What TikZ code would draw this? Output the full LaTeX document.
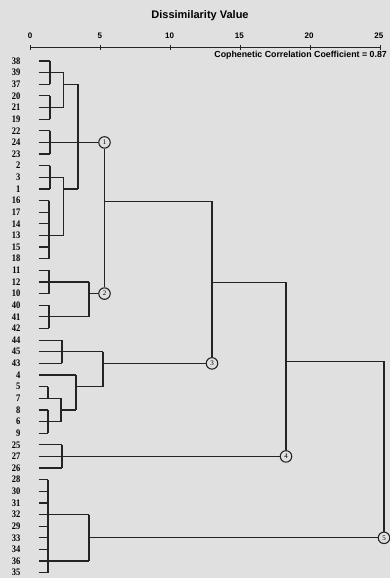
\documentclass[tikz,border=0pt]{standalone}
\usepackage{fontspec}
\setmainfont{Liberation Serif}
\setsansfont{Liberation Sans}
\definecolor{paper}{HTML}{E0E0E0}
\definecolor{ink}{HTML}{242424}
\begin{document}
\begin{tikzpicture}[x=1pt,y=-1pt,
  tree/.style={draw=ink,line width=1.2pt},
  leaf/.style={anchor=east,inner sep=0pt,text=black,font=\fontsize{10}{10}\selectfont\bfseries},
  clus/.style={circle,draw=ink,line width=1.1pt,fill=paper,minimum size=11.5pt,inner sep=0pt,
    font=\fontsize{7}{7}\selectfont},
  ticklab/.style={inner sep=0pt,font=\sffamily\bfseries\fontsize{8}{8}\selectfont}]
\fill[paper] (0,0) rectangle (390,578);
\useasboundingbox (0,0) rectangle (390,578);

% scale and title
\node[font=\sffamily\bfseries\fontsize{11}{11}\selectfont] (title) at (200,16) {Dissimilarity Value};
\coordinate (a0) at (30,47.5);
\coordinate (a25) at (381,47.5);
\draw[ink,line width=1.3pt] (a0) -- (a25);
\foreach \v in {0,5,...,25} {
  \node[ticklab] (t\v) at ({30+13.95*\v},36) {\v};
  \draw[ink,line width=0.8pt] ({30+14*\v},45.3) -- ({30+14*\v},49.7);
}
\node[anchor=east,inner sep=0pt,font=\sffamily\bfseries\fontsize{8.8}{8.8}\selectfont]
  (ccc) at (387,55.5) {Cophenetic Correlation Coefficient = 0.87};

% leaves: label and the stub leaving it (label / right end of the stub)
\foreach \lab/\ex [count=\i from 0] in {38/50,39/63.5,37/50,20/50,21/63.5,19/50,22/50,24/50,23/50,
    2/50,3/63.5,1/50,16/49,17/49,14/49,13/63.5,15/49,18/49,11/49,12/89,10/49,40/49,41/89,42/49,
    44/62,45/103,43/62,4/76,5/48,7/61,8/48,6/61,9/48,25/62,27/62,26/62,
    28/48,30/48,31/48,32/89,29/48,33/48,34/48,36/89,35/48}{
  \pgfmathsetmacro\yy{61+11.63*\i}
  \node[leaf] (L\lab) at (20.5,\yy) {\scalebox{0.85}[1]{\lab}};
  \coordinate (s\lab) at (38.5,\yy);
  \draw[tree] (s\lab) -- (\ex,\yy);
}

% x positions of the joining lines
\coordinate (xA) at (50,0);
\coordinate (xB) at (49,0);
\coordinate (xC) at (48,0);
\coordinate (xD) at (62,0);
\coordinate (xE) at (63.5,0);
\coordinate (xF) at (78,0);
\coordinate (xG) at (89,0);
\coordinate (xH) at (61,0);
\coordinate (xI) at (76,0);
\coordinate (xJ) at (103,0);
\coordinate (xK) at (104.5,0);
\coordinate (xL) at (212,0);
\coordinate (xM) at (286,0);
\coordinate (xN) at (384,0);

% numbered clusters
\node[clus] (c1) at (xK |- s24) {1};
\node[clus] (c2) at (xK |- s10) {2};
\node[clus] (c3) at (xL |- s43) {3};
\node[clus] (c4) at (xM |- s27) {4};
\node[clus] (c5) at (xN |- s33) {5};

% first-level brackets
\draw[tree] (xA |- s38) -- (xA |- s37);
\draw[tree] (xA |- s20) -- (xA |- s19);
\draw[tree] (xA |- s22) -- (xA |- s23);
\draw[tree] (xA |- s2) -- (xA |- s1);
\draw[tree] (xB |- s16) -- (xB |- s18);
\draw[tree] (xB |- s11) -- (xB |- s10);
\draw[tree] (xB |- s40) -- (xB |- s42);
\draw[tree] (xD |- s44) -- (xD |- s43);
\draw[tree] (xC |- s5) -- (xC |- s7);
\draw[tree] (xC |- s8) -- (xC |- s9);
\draw[tree] (xD |- s25) -- (xD |- s26);
\draw[tree] (xC |- s28) -- (xC |- s35);

% higher joins
\draw[tree] (xE |- s39) -- (xE |- s21);
\draw[tree] (xE |- s37) -- (xF |- s37);
\draw[tree] (xE |- s3) -- (xE |- s13);
\draw[tree] (xE |- s1) -- (xF |- s1);
\draw[tree] (xF |- s37) -- (xF |- s1);
\draw[tree] (xA |- s24) -- (c1);
\draw[tree] (xG |- s12) -- (xG |- s41);
\draw[tree] (xG |- s10) -- (c2);
\draw[tree] (xH |- s7) -- (xH |- s6);
\draw[tree] (xH |- s8) -- (xI |- s8);
\draw[tree] (xI |- s4) -- (xI |- s8);
\draw[tree] (xI |- s5) -- (xJ |- s5);
\draw[tree] (xJ |- s45) -- (xJ |- s5);
\draw[tree] (xJ |- s43) -- (c3);
\draw[tree] (xD |- s27) -- (c4);
\draw[tree] (xG |- s32) -- (xG |- s36);
\draw[tree] (xG |- s33) -- (c5);

% links between the numbered clusters
\coordinate (j1) at (104.5,201.5);
\coordinate (j2) at (212,201.5);
\coordinate (j3) at (212,282.7);
\coordinate (j4) at (286,282.7);
\coordinate (j5) at (286,361.7);
\coordinate (j6) at (384,361.7);
\draw[tree] (c1) -- (c2);
\draw[tree] (j1) -- (j2) -- (c3);
\draw[tree] (j3) -- (j4) -- (c4);
\draw[tree] (j5) -- (j6) -- (c5);
\end{tikzpicture}
\end{document}
